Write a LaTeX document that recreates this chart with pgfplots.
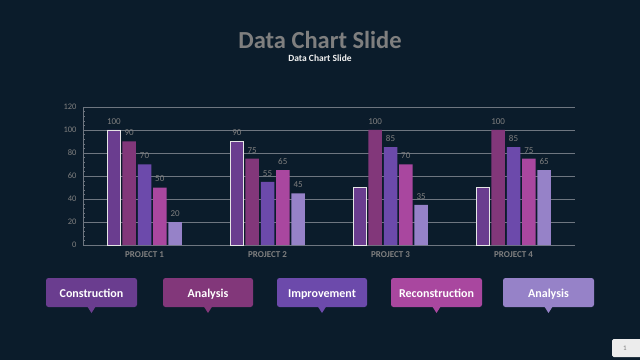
\documentclass[border=0pt]{standalone}
\usepackage{pgfplots}
\pgfplotsset{compat=1.18}
\usepackage{fontspec}
\setmainfont{Carlito}
\definecolor{bg}{HTML}{0B1C2B}
\definecolor{sA}{HTML}{6A3D8F}
\definecolor{sB}{HTML}{82377A}
\definecolor{sC}{HTML}{6C4AAB}
\definecolor{sD}{HTML}{A9479F}
\definecolor{sE}{HTML}{9682C8}
\definecolor{txtgray}{HTML}{7F7F7F}
\definecolor{gridc}{HTML}{6E7680}
\begin{document}
\begin{tikzpicture}[x=1bp,y=1bp]
\fill[bg] (0,0) rectangle (640,360);
\useasboundingbox (0,0) rectangle (640,360);
\node[text=txtgray,font=\fontsize{24.5bp}{28bp}\selectfont\bfseries] at (320,320) {Data Chart Slide};
\node[text=white!90!gray,font=\fontsize{9.5bp}{11bp}\selectfont\bfseries] at (320,302) {Data Chart Slide};
\begin{axis}[
  at={(83bp,115bp)}, anchor=south west,
  scale only axis, width=492bp, height=138bp,
  xmin=-0.5, xmax=3.5, ymin=0, ymax=120,
  axis x line*=bottom, axis y line*=left,
  axis line style={gridc, line width=0.8bp},
  ytick={0,20,...,120},
  minor y tick num=4,
  ymajorgrids, major grid style={gridc, line width=0.8bp},
  xtick={0,1,2,3},
  xticklabels={PROJECT 1,PROJECT 2,PROJECT 3,PROJECT 4},
  x tick label style={text=txtgray,font=\fontsize{9bp}{10bp}\selectfont\bfseries, yshift=-3bp},
  y tick label style={text=txtgray,font=\fontsize{8.5bp}{10bp}\selectfont, xshift=-3bp},
  /pgf/number format/assume math mode=true,
  major x tick style={draw=none},
  extra x ticks={0.5,1.5,2.5},
  extra x tick labels={},
  extra x tick style={major tick length=3bp, tick style={gridc}, grid=none},
  tick style={gridc},
  major tick length=0bp, minor tick length=2bp,
  tick align=inside,
  ybar=1.8bp, bar width=13.5bp,
  point meta=explicit symbolic,
  nodes near coords=\pgfplotspointmeta,
  nodes near coords style={text=txtgray,font=\fontsize{9bp}{10bp}\selectfont, anchor=south, yshift=2bp},
  clip=false,
]
\addplot[fill=sA, draw=white!80!gray, line width=0.8bp] coordinates {(0,100) [100] (1,90) [90] (2,50) [] (3,50) []};
\addplot[fill=sB, draw=none] coordinates {(0,90) [90] (1,75) [75] (2,100) [100] (3,100) [100]};
\addplot[fill=sC, draw=none] coordinates {(0,70) [70] (1,55) [55] (2,85) [85] (3,85) [85]};
\addplot[fill=sD, draw=none] coordinates {(0,50) [50] (1,65) [65] (2,70) [70] (3,75) [75]};
\addplot[fill=sE, draw=none] coordinates {(0,20) [20] (1,45) [45] (2,35) [35] (3,65) [65]};
\end{axis}
\foreach \xa/\xb/\col/\lab in {46/137/sA/Construction,163/253/sB/Analysis,277/367/sC/Improvement,391/482/sD/Reconstruction,503/594/sE/Analysis}{
  \pgfmathsetmacro\cx{(\xa+\xb)/2}
  \fill[\col, rounded corners=2.5bp] (\xa,82) rectangle (\xb,53);
  \fill[\col] (\cx-4.5,54) -- (\cx+4.5,54) -- (\cx,47) -- cycle;
  \node[text=white, font=\fontsize{12bp}{14bp}\selectfont\bfseries, anchor=base] at (\cx,63) {\lab};
}
\fill[white!85!gray, rounded corners=1.5bp] (612,21) rectangle (645,3);
\node[text=txtgray, font=\fontsize{7bp}{8bp}\selectfont] at (625,12) {1};
\end{tikzpicture}
\end{document}
